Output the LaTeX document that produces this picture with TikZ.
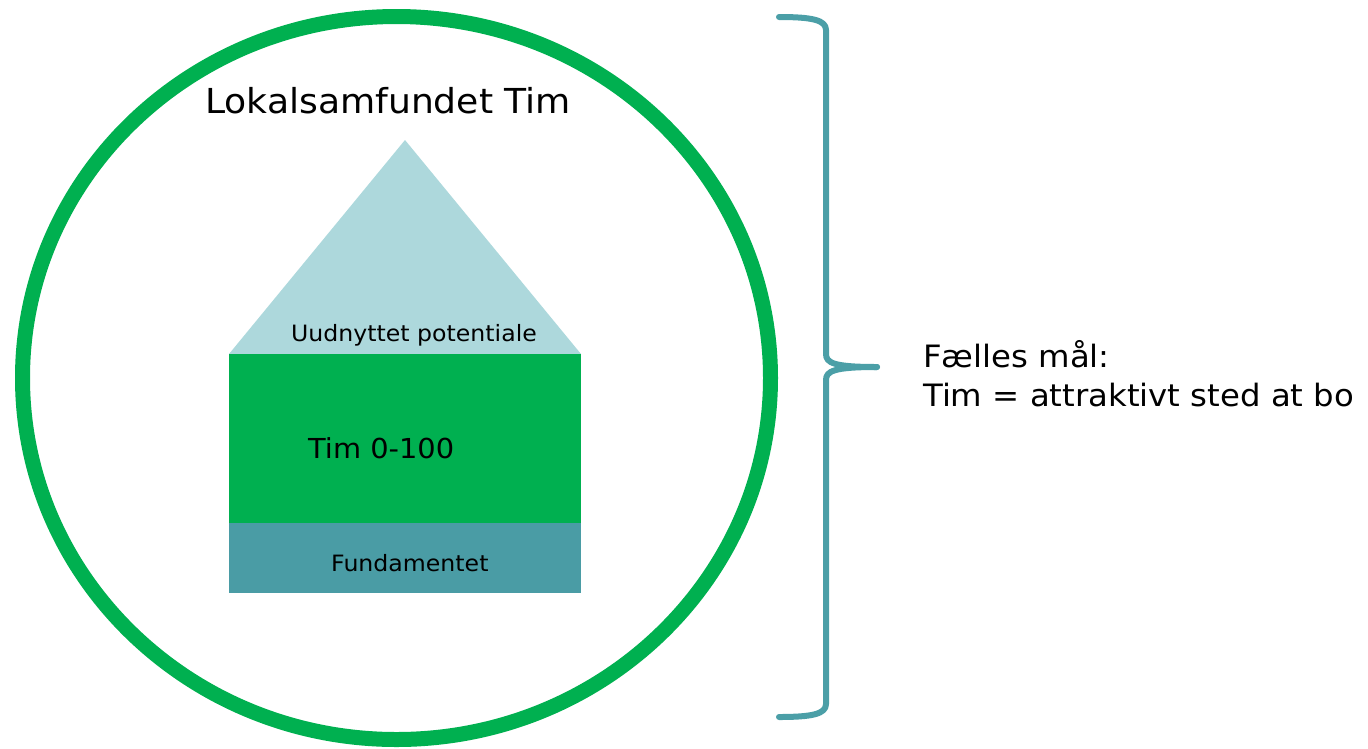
\documentclass[tikz,border=0pt]{standalone}
\usepackage{fontspec}
\setmainfont{DejaVu Sans}[FakeStretch=1.05]
\definecolor{cgreen}{HTML}{00B050}
\definecolor{croof}{HTML}{ADD8DC}
\definecolor{cteal}{HTML}{4A9CA5}
\definecolor{cbrace}{HTML}{4B9FA7}
\tikzset{
  lbl/.style={anchor=base west, inner sep=0pt, text=black},
}
\begin{document}
\begin{tikzpicture}[x=1pt,y=-1pt]
\useasboundingbox (0,0) rectangle (1368,748);
% circle
\draw[cgreen, line width=15pt] (396.5,378) ellipse [x radius=374, y radius=361.5];
% house
\fill[croof] (229,354) -- (405,140) -- (581,354) -- cycle;
\fill[cgreen] (229,354) rectangle (581,523);
\fill[cteal] (229,523) rectangle (581,593);
% brace
\draw[cbrace, line width=6pt, line cap=round, line join=round]
  (779,17) .. controls (812,17) and (826,20) .. (826,30) -- (826,354)
  .. controls (826,363) and (834,367) .. (877,367);
\draw[cbrace, line width=6pt, line cap=round, line join=round]
  (877,367) .. controls (834,367) and (826,371) .. (826,380) -- (826,704)
  .. controls (826,714) and (812,717) .. (779,717);
% texts
\node[lbl, font=\fontsize{34.4}{42}\selectfont] (title) at (205,113) {Lokalsamfundet Tim};
\node[lbl, font=\fontsize{22.5}{27}\selectfont] (roof) at (291,341) {Uudnyttet potentiale};
\node[lbl, font=\fontsize{27.5}{34}\selectfont] (mid) at (308,458) {Tim 0-100};
\node[lbl, font=\fontsize{22.5}{27}\selectfont] (base) at (331,571) {Fundamentet};
\node[lbl, font=\fontsize{30.8}{38}\selectfont] (goal1) at (923,367) {Fælles mål:};
\node[lbl, font=\fontsize{30.8}{38}\selectfont] (goal2) at (923,406) {Tim = attraktivt sted at bo};
\end{tikzpicture}
\end{document}
